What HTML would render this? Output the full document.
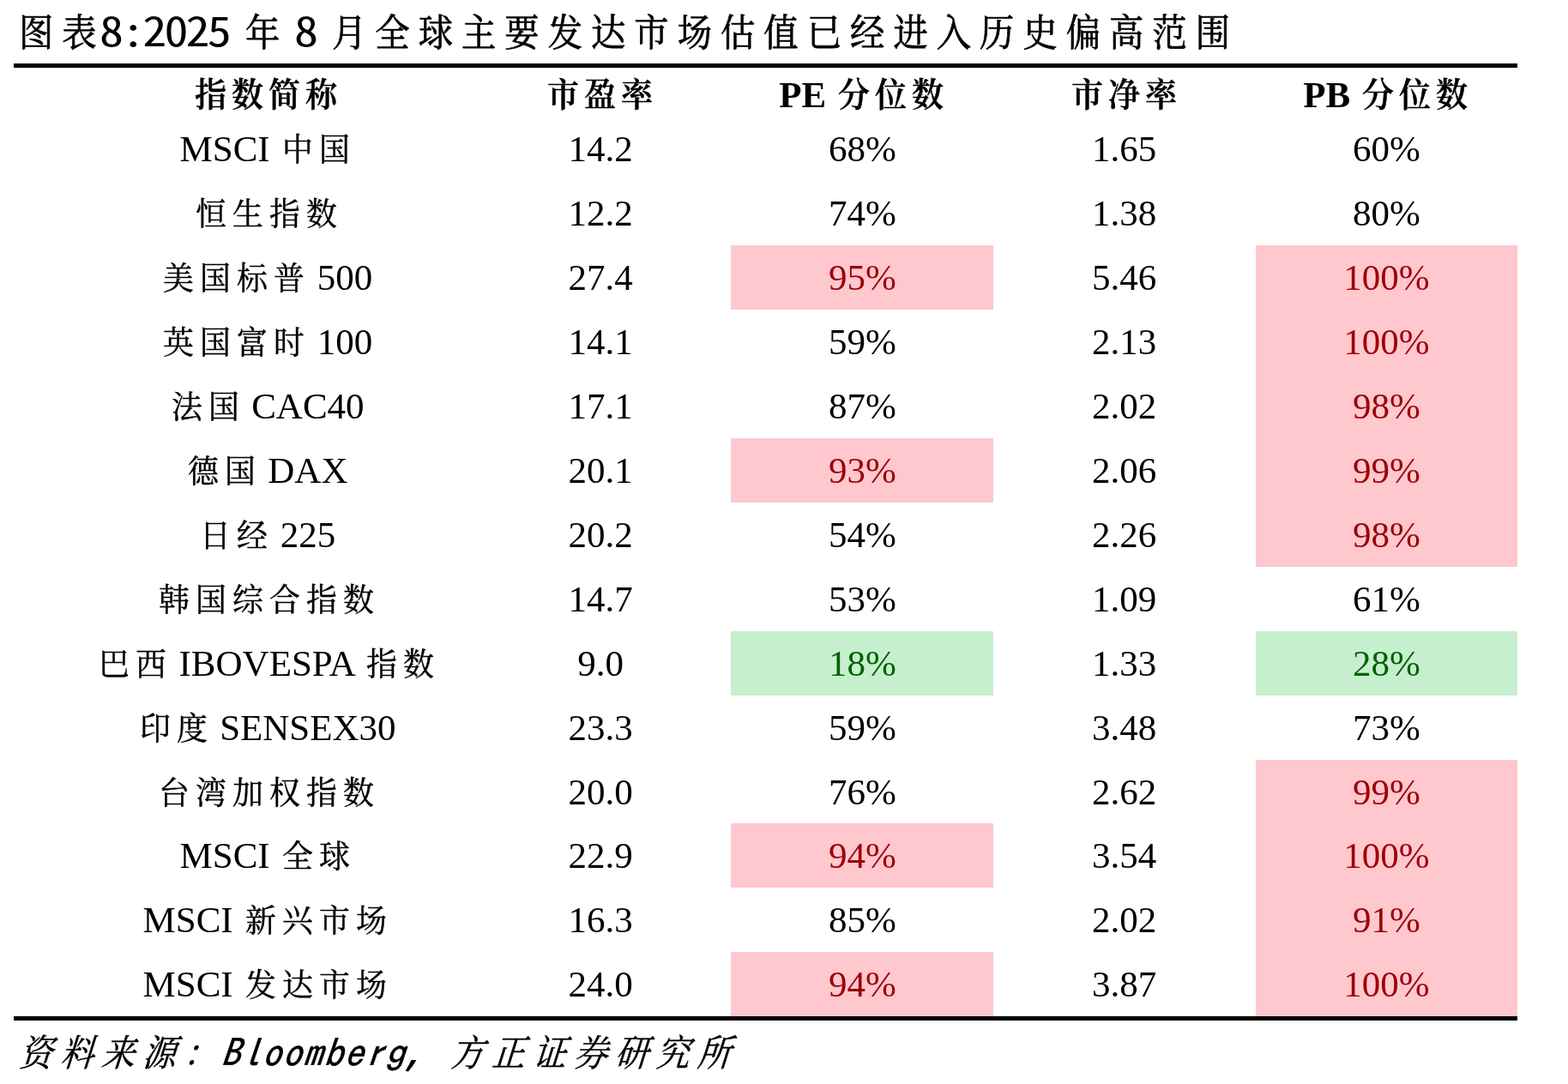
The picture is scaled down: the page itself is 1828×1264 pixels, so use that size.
<!DOCTYPE html>
<html lang="zh-CN">
<head>
<meta charset="utf-8">
<title>图表8:2025 年 8 月全球主要发达市场估值已经进入历史偏高范围</title>
<style>
html,body{margin:0;padding:0;background:#fff;}
h1,p,table,thead,tbody,tr,th,td{display:block;margin:0;padding:0;border:0;font-weight:normal;font-style:normal;}
body{width:1828px;height:1264px;position:relative;overflow:hidden;font-family:"Liberation Serif","Noto Serif CJK SC",serif;color:#000;}
.k{font-family:"Liberation Serif","Noto Serif CJK SC",serif;position:relative;display:inline-block;transform-origin:0 50%;}
.title{position:absolute;left:17.1px;top:3px;height:60px;line-height:60px;font-size:48px;white-space:nowrap;}
.title .k{font-size:44.8px;letter-spacing:11.133px;margin-left:5.010px;transform:scaleX(0.9);-webkit-text-stroke:0.75px;top:0px;}
.title .s{display:inline-block;width:12.6px;}
.title .d{font-family:"Noto Sans Mono CJK SC","IPAGothic","Liberation Mono",monospace;font-weight:500;display:inline-block;transform:scaleX(1.17);transform-origin:0 50%;letter-spacing:-2.504px;position:relative;top:0px;left:-1.4px;}
.title .d6{margin-right:21.92px;}
.title .d1{margin-right:3.65px;}
.rule{position:absolute;left:16px;width:1753px;background:#000;}
.r1{top:74px;height:5px;}
.r2{top:1185px;height:5px;}
.row{position:absolute;left:0;width:1828px;height:74.93px;line-height:76.7px;font-size:43px;white-space:nowrap;}
.row .k{font-size:37.0px;letter-spacing:7.330px;margin-left:3.555px;transform:scaleX(0.97);-webkit-text-stroke:0.45px;top:0px;}
.hd .k{font-size:38.2px;letter-spacing:6.130px;margin-left:2.973px;transform:scaleX(0.97);-webkit-text-stroke:0.5px;top:-0.7px;font-weight:600;}
.c{position:absolute;top:0;height:100%;text-align:center;}
.c1{left:45.5px;width:530px;}
.c2{left:547px;width:306px;}
.c3{left:852px;width:306px;padding-left:1px;box-sizing:border-box;}
.c4{left:1157.5px;width:306px;}
.c5{left:1464px;width:305px;}
.hd{top:79px;height:57.2px;line-height:63px;}
.hd .c{font-weight:bold;}
.r{color:#9c0006;background:#ffc7ce;}
.g{color:#006100;background:#c6efce;}
.src{position:absolute;left:20.2px;top:1195.7px;height:60px;line-height:60px;font-size:45px;font-style:italic;white-space:nowrap;}
.src .k{font-size:43.0px;letter-spacing:10.222px;margin-left:4.600px;transform:skewX(-5deg) scaleX(0.9);-webkit-text-stroke:0.5px;top:0px;left:-1.5px;}
.src .l{font-family:"IPAGothic","Liberation Mono",monospace;font-size:45px;-webkit-text-stroke:0.6px;letter-spacing:1.45px;white-space:pre;position:relative;left:-1.5px;top:1px;display:inline-block;transform:skewX(-5deg);transform-origin:0 50%;}
</style>
</head>
<body>
<h1 class="title"><span class="k" style="margin-right:-16.20px">图表</span><span class="d d6">8:2025</span><span class="s"> </span><span class="k" style="margin-right:-10.60px">年</span><span class="s"> </span><span class="d d1">8</span><span class="s"> </span><span class="k" style="margin-right:-122.47px">月全球主要发达市场估值已经进入历史偏高范围</span></h1>
<div class="rule r1"></div>
<table>
<thead>
<tr class="row hd"><th class="c c1"><span class="k" style="margin-right:-8.29px">指数简称</span></th><th class="c c2"><span class="k" style="margin-right:-6.96px">市盈率</span></th><th class="c c3">PE <span class="k" style="margin-right:-6.96px">分位数</span></th><th class="c c4"><span class="k" style="margin-right:-6.96px">市净率</span></th><th class="c c5">PB <span class="k" style="margin-right:-6.96px">分位数</span></th></tr>
</thead>
<tbody>
<tr class="row" style="top:136.20px"><td class="c c1">MSCI <span class="k" style="margin-right:-6.21px">中国</span></td><td class="c c2">14.2</td><td class="c c3">68%</td><td class="c c4">1.65</td><td class="c c5">60%</td></tr>
<tr class="row" style="top:211.13px"><td class="c c1"><span class="k" style="margin-right:-8.87px">恒生指数</span></td><td class="c c2">12.2</td><td class="c c3">74%</td><td class="c c4">1.38</td><td class="c c5">80%</td></tr>
<tr class="row" style="top:286.06px"><td class="c c1"><span class="k" style="margin-right:-8.87px">美国标普</span> 500</td><td class="c c2">27.4</td><td class="c c3 r">95%</td><td class="c c4">5.46</td><td class="c c5 r">100%</td></tr>
<tr class="row" style="top:360.99px"><td class="c c1"><span class="k" style="margin-right:-8.87px">英国富时</span> 100</td><td class="c c2">14.1</td><td class="c c3">59%</td><td class="c c4">2.13</td><td class="c c5 r">100%</td></tr>
<tr class="row" style="top:435.92px"><td class="c c1"><span class="k" style="margin-right:-6.21px">法国</span> CAC40</td><td class="c c2">17.1</td><td class="c c3">87%</td><td class="c c4">2.02</td><td class="c c5 r">98%</td></tr>
<tr class="row" style="top:510.85px"><td class="c c1"><span class="k" style="margin-right:-6.21px">德国</span> DAX</td><td class="c c2">20.1</td><td class="c c3 r">93%</td><td class="c c4">2.06</td><td class="c c5 r">99%</td></tr>
<tr class="row" style="top:585.78px"><td class="c c1"><span class="k" style="margin-right:-6.21px">日经</span> 225</td><td class="c c2">20.2</td><td class="c c3">54%</td><td class="c c4">2.26</td><td class="c c5 r">98%</td></tr>
<tr class="row" style="top:660.71px"><td class="c c1"><span class="k" style="margin-right:-11.53px">韩国综合指数</span></td><td class="c c2">14.7</td><td class="c c3">53%</td><td class="c c4">1.09</td><td class="c c5">61%</td></tr>
<tr class="row" style="top:735.64px"><td class="c c1"><span class="k" style="margin-right:-6.21px">巴西</span> IBOVESPA <span class="k" style="margin-right:-6.21px">指数</span></td><td class="c c2">9.0</td><td class="c c3 g">18%</td><td class="c c4">1.33</td><td class="c c5 g">28%</td></tr>
<tr class="row" style="top:810.57px"><td class="c c1"><span class="k" style="margin-right:-6.21px">印度</span> SENSEX30</td><td class="c c2">23.3</td><td class="c c3">59%</td><td class="c c4">3.48</td><td class="c c5">73%</td></tr>
<tr class="row" style="top:885.50px"><td class="c c1"><span class="k" style="margin-right:-11.53px">台湾加权指数</span></td><td class="c c2">20.0</td><td class="c c3">76%</td><td class="c c4">2.62</td><td class="c c5 r">99%</td></tr>
<tr class="row" style="top:960.43px"><td class="c c1">MSCI <span class="k" style="margin-right:-6.21px">全球</span></td><td class="c c2">22.9</td><td class="c c3 r">94%</td><td class="c c4">3.54</td><td class="c c5 r">100%</td></tr>
<tr class="row" style="top:1035.36px"><td class="c c1">MSCI <span class="k" style="margin-right:-8.87px">新兴市场</span></td><td class="c c2">16.3</td><td class="c c3">85%</td><td class="c c4">2.02</td><td class="c c5 r">91%</td></tr>
<tr class="row" style="top:1110.29px"><td class="c c1">MSCI <span class="k" style="margin-right:-8.87px">发达市场</span></td><td class="c c2">24.0</td><td class="c c3 r">94%</td><td class="c c4">3.87</td><td class="c c5 r">100%</td></tr>
</tbody>
</table>
<div class="rule r2"></div>
<p class="src"><span class="k" style="margin-right:-31.21px">资料来源：</span><span class="l">Bloomberg, </span><span class="k" style="margin-right:-41.86px">方正证券研究所</span></p>
</body>
</html>
